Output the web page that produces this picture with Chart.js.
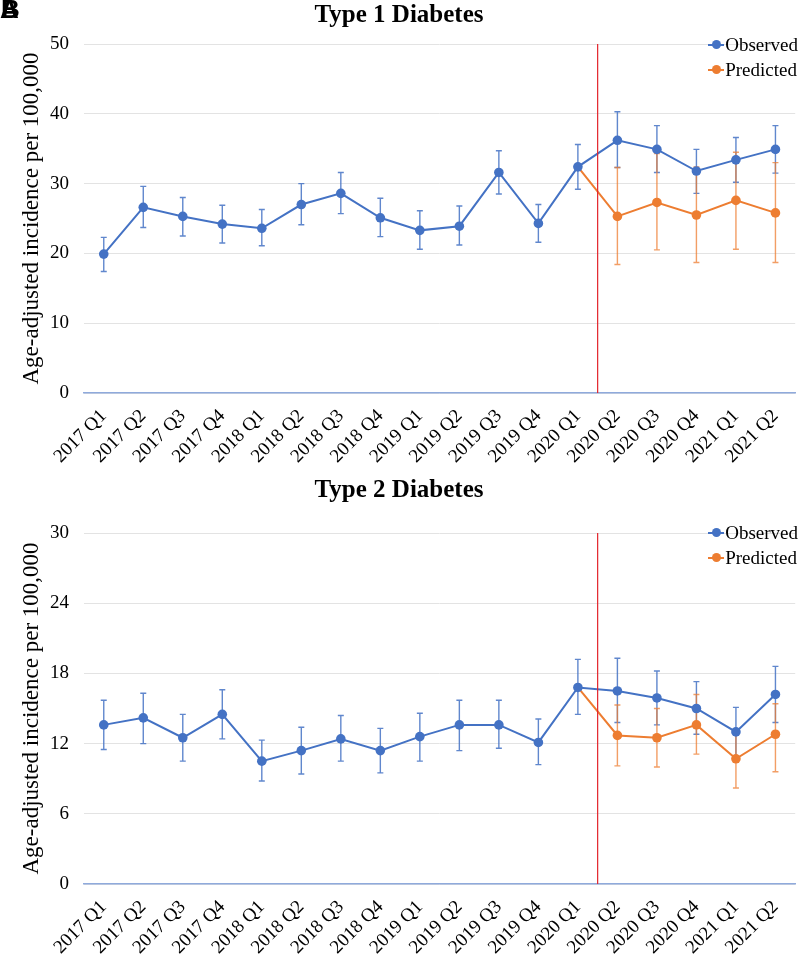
<!DOCTYPE html>
<html>
<head>
<meta charset="utf-8">
<script src="https://cdn.jsdelivr.net/npm/chart.js@4.4.1/dist/chart.umd.min.js"></script>
<style>
    html, body { margin: 0; padding: 0; background: #fff; }
    body { width: 800px; height: 958px; position: relative; overflow: hidden; font-family: "Liberation Serif", serif; }
    .panel { position: absolute; left: 0; width: 800px; }
    .panel canvas { display: block; }
    .tag { position: absolute; left: 0; top: -6px; font: bold 26px "Liberation Sans", sans-serif; color: #000; }
    .legend { position: absolute; right: 2px; font-size: 19px; color: #000; line-height: 25px; }
    .legend div { display: flex; align-items: center; white-space: nowrap; }
    .legend .mark { position: relative; width: 16px; height: 2px; margin-right: 1px; }
    .legend .mark span { position: absolute; left: 4px; top: -4px; width: 9px; height: 9px; border-radius: 50%; }
</style>
</head>
<body>
<div class="panel" id="panel1" style="top:0;height:470px;"><canvas id="chart1" width="800" height="470"></canvas></div>
<div class="panel" id="panel2" style="top:470px;height:488px;"><canvas id="chart2" width="800" height="488"></canvas></div>
<div class="tag">A</div>
<div class="tag" style="left:1px;">B</div>
<script>
const quarters = ['2017 Q1', '2017 Q2', '2017 Q3', '2017 Q4', '2018 Q1', '2018 Q2', '2018 Q3', '2018 Q4',
    '2019 Q1', '2019 Q2', '2019 Q3', '2019 Q4', '2020 Q1', '2020 Q2', '2020 Q3', '2020 Q4', '2021 Q1', '2021 Q2'];

// Type 1 diabetes
const t1Observed = [19.9, 26.6, 25.3, 24.2, 23.6, 27.0, 28.6, 25.1, 23.3, 23.9, 31.6, 24.3, 32.4, 36.2, 34.9, 31.8, 33.4, 34.9];
const t1ObservedLow = [17.4, 23.7, 22.5, 21.5, 21.1, 24.1, 25.7, 22.4, 20.6, 21.2, 28.5, 21.6, 29.2, 32.3, 31.6, 28.6, 30.2, 31.5];
const t1ObservedHigh = [22.3, 29.6, 28.0, 26.9, 26.3, 30.0, 31.6, 27.9, 26.1, 26.8, 34.7, 27.0, 35.6, 40.3, 38.3, 34.9, 36.6, 38.3];
const t1Predicted = [null, null, null, null, null, null, null, null, null, null, null, null, 32.4, 25.3, 27.3, 25.5, 27.6, 25.8];
const t1PredictedLow = [null, null, null, null, null, null, null, null, null, null, null, null, null, 18.4, 20.5, 18.7, 20.6, 18.7];
const t1PredictedHigh = [null, null, null, null, null, null, null, null, null, null, null, null, null, 32.3, 34.3, 32.4, 34.5, 33.0];

// Type 2 diabetes
const t2Observed = [13.6, 14.2, 12.5, 14.5, 10.5, 11.4, 12.4, 11.4, 12.6, 13.6, 13.6, 12.1, 16.8, 16.5, 15.9, 15.0, 13.0, 16.2];
const t2ObservedLow = [11.5, 12.0, 10.5, 12.4, 8.8, 9.4, 10.5, 9.5, 10.5, 11.4, 11.6, 10.2, 14.5, 13.8, 13.6, 12.8, 10.9, 13.8];
const t2ObservedHigh = [15.7, 16.3, 14.5, 16.6, 12.3, 13.4, 14.4, 13.3, 14.6, 15.7, 15.7, 14.1, 19.2, 19.3, 18.2, 17.3, 15.1, 18.6];
const t2Predicted = [null, null, null, null, null, null, null, null, null, null, null, null, 16.8, 12.7, 12.5, 13.6, 10.7, 12.8];
const t2PredictedLow = [null, null, null, null, null, null, null, null, null, null, null, null, null, 10.1, 10.0, 11.1, 8.2, 9.6];
const t2PredictedHigh = [null, null, null, null, null, null, null, null, null, null, null, null, null, 15.3, 15.0, 16.2, 13.1, 15.4];

const pandemicStart = 12.5; // between 2020 Q1 and 2020 Q2
const seriesNames = ['Observed', 'Predicted'];
const blue = '#4472C4';
const orange = '#ED7D31';

// error bars, drawn behind the lines
const errorBars = {
    id: 'errorBars',
    beforeDatasetsDraw(chart) {
        const ctx = chart.ctx;
        const x = chart.scales.x;
        const y = chart.scales.y;
        chart.data.datasets.forEach(ds => {
            if (!ds.low) return;
            ctx.save();
            ctx.strokeStyle = ds.barColor;
            ctx.lineWidth = 1.4;
            ds.low.forEach((lo, i) => {
                const hi = ds.high[i];
                if (lo == null || hi == null) return;
                const px = x.getPixelForValue(i);
                const pLo = y.getPixelForValue(lo);
                const pHi = y.getPixelForValue(hi);
                ctx.beginPath();
                ctx.moveTo(px, pLo); ctx.lineTo(px, pHi);
                ctx.moveTo(px - 3, pLo); ctx.lineTo(px + 3, pLo);
                ctx.moveTo(px - 3, pHi); ctx.lineTo(px + 3, pHi);
                ctx.stroke();
            });
            ctx.restore();
        });
    }
};

const cutLine = {
    id: 'cutLine',
    afterDatasetsDraw(chart) {
        const ctx = chart.ctx;
        const px = chart.scales.x.getPixelForValue(pandemicStart);
        ctx.save();
        ctx.strokeStyle = '#E3242B';
        ctx.lineWidth = 1.2;
        ctx.beginPath();
        ctx.moveTo(px, chart.chartArea.top);
        ctx.lineTo(px, chart.chartArea.bottom);
        ctx.stroke();
        ctx.restore();
    }
};

function addLegend(panel, top) {
    const legend = document.createElement('div');
    legend.className = 'legend';
    legend.style.top = top + 'px';
    [blue, orange].forEach((color, i) => {
        const row = document.createElement('div');
        row.innerHTML = `<span class="mark" style="background:${color}"><span style="background:${color}"></span></span>${seriesNames[i]}`;
        legend.appendChild(row);
    });
    panel.appendChild(legend);
}

function makeChart(canvasId, title, titlePad, observed, obsLow, obsHigh, predicted, predLow, predHigh, yMax, yStep, xHeight) {
    const ctx = document.getElementById(canvasId).getContext('2d');
    return new Chart(ctx, {
        type: 'line',
        data: {
            labels: quarters,
            datasets: [
                {
                    label: seriesNames[0],
                    data: observed,
                    low: obsLow,
                    high: obsHigh,
                    barColor: 'rgba(68, 114, 196, 0.85)',
                    borderColor: blue,
                    backgroundColor: blue,
                    borderWidth: 2,
                    pointRadius: 4.8,
                    pointBorderWidth: 0,
                    tension: 0
                },
                {
                    label: seriesNames[1],
                    data: predicted,
                    low: predLow,
                    high: predHigh,
                    barColor: 'rgba(237, 125, 49, 0.75)',
                    borderColor: orange,
                    backgroundColor: orange,
                    borderWidth: 2,
                    pointRadius: predicted.map((v, i) => i === 12 ? 0 : 4.8),
                    pointBorderWidth: 0,
                    tension: 0
                }
            ]
        },
        options: {
            responsive: false,
            animation: false,
            layout: { padding: { left: 0, right: 2, top: 0, bottom: 0 } },
            plugins: {
                legend: { display: false },
                tooltip: { enabled: false },
                title: {
                    display: true,
                    text: title,
                    color: '#000',
                    font: { family: 'Liberation Serif', size: 25, weight: 'bold' },
                    padding: titlePad
                }
            },
            scales: {
                x: {
                    offset: true,
                    grid: { display: false },
                    border: { display: true, color: '#8FAADC', width: 1.5 },
                    ticks: {
                        color: '#000',
                        font: { family: 'Liberation Serif', size: 19 },
                        minRotation: 45,
                        maxRotation: 45,
                        autoSkip: false,
                        padding: 4
                    },
                    afterFit(scale) { scale.height = xHeight; }
                },
                y: {
                    min: 0,
                    max: yMax,
                    grid: { color: '#E3E3E3', drawTicks: false },
                    border: { display: false },
                    ticks: {
                        stepSize: yStep,
                        color: '#000',
                        font: { family: 'Liberation Serif', size: 19 },
                        padding: 15
                    },
                    title: {
                        display: true,
                        text: 'Age-adjusted incidence per 100,000',
                        color: '#000',
                        font: { family: 'Liberation Serif', size: 23 },
                        padding: { top: 18, bottom: 0 }
                    },
                    afterFit(scale) { scale.width = 84; }
                }
            }
        },
        plugins: [errorBars, cutLine]
    });
}

makeChart('chart1', 'Type 1 Diabetes', { top: 1, bottom: 13 },
    t1Observed, t1ObservedLow, t1ObservedHigh, t1Predicted, t1PredictedLow, t1PredictedHigh, 50, 10, 77);
makeChart('chart2', 'Type 2 Diabetes', { top: 6, bottom: 27 },
    t2Observed, t2ObservedLow, t2ObservedHigh, t2Predicted, t2PredictedLow, t2PredictedHigh, 30, 6, 74);

addLegend(document.getElementById('panel1'), 32);
addLegend(document.getElementById('panel2'), 50);
</script>
</body>
</html>
